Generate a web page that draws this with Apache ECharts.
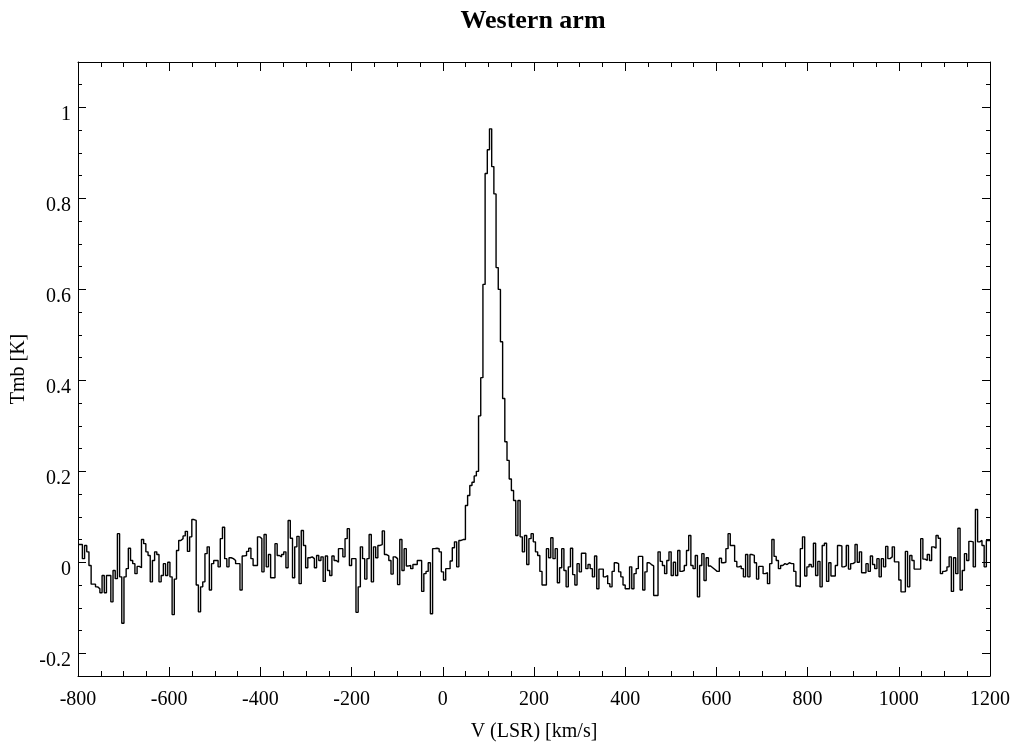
<!DOCTYPE html>
<html>
<head>
<meta charset="utf-8">
<title>Western arm</title>
<script src="https://cdn.jsdelivr.net/npm/echarts@6/dist/echarts.min.js"></script>
<style>
  html, body { margin: 0; padding: 0; background: #fff; }
  #chart { width: 1016px; height: 749px; }
</style>
</head>
<body>
<div id="chart"></div>
<script>
// Spectrum channels: first channel edge and channel width in km/s
const channelStart = -800;
const channelWidth = 4.8;

// Main-beam temperature per channel [K]
const tmbSeg1 = [
  0.039, 0.039, 0.008, 0.037, 0.023, -0.007, -0.048, -0.048, -0.054, -0.058,
  -0.067, -0.029, -0.067, -0.029, -0.029, -0.087, -0.018, -0.036, 0.063, -0.032,
  -0.134, -0.032, -0.014, 0.031, 0.004, -0.003, -0.025, -0.009, -0.012, 0.05,
  0.041, 0.023, 0.015, -0.043, 0.004, 0.023, 0.017, -0.043, -0.029, -0.003,
  -0.029, 0.0, -0.032, -0.115, -0.037, 0.026, 0.048, 0.052, 0.058, 0.068,
  0.024, 0.056, 0.094, 0.092, -0.05, -0.109, -0.054, -0.043, 0.019, 0.034,
  -0.061, -0.003, 0.004, 0.004, -0.01, 0.052, 0.077, 0.008, -0.01, 0.01,
  0.008, 0.004, -0.003, -0.003, -0.061, 0.014, 0.015, 0.024, 0.031, 0.008,
  -0.007, -0.007, 0.056, 0.052, -0.021, 0.061, -0.01, 0.017, -0.034, -0.034
];
const tmbSeg2 = [
  0.041, 0.015, 0.012, 0.017, 0.023, -0.012, 0.092, 0.053, -0.034, 0.034,
  0.057, -0.047, 0.07, 0.037, -0.012, 0.01, 0.012, 0.008, -0.012, 0.015,
  0.004, 0.012, -0.042, 0.014, -0.018, -0.029, 0.014, 0.004, 0.0, 0.03,
  0.03, 0.012, 0.052, 0.074, -0.007, 0.008, 0.008, -0.11, -0.054, 0.034,
  0.008, -0.037, 0.008, 0.061, -0.043, 0.034, 0.01, 0.037, 0.039, 0.069,
  0.017, 0.014, 0.004, -0.026, 0.012, 0.008, -0.049, 0.05, -0.018, 0.03,
  -0.008, -0.007, -0.014, -0.005, -0.005, 0.004, 0.004, -0.064, -0.025, -0.02,
  -0.001, -0.113, 0.03, 0.031, 0.03, 0.023, -0.021, -0.039, -0.014, -0.014,
  0.003, 0.032, 0.045, -0.01, 0.048, 0.05, 0.05
];
const tmbLine = [
  0.125, 0.147, 0.169, 0.176, 0.19, 0.2, 0.322, 0.406, 0.611, 0.855,
  0.907, 0.953, 0.87, 0.81, 0.648, 0.6, 0.485, 0.36, 0.265, 0.224,
  0.183, 0.158, 0.136, 0.059, 0.136, 0.056, 0.023, 0.059
];
const tmbSeg3 = [
  -0.005, 0.052, 0.063, 0.045, 0.023, 0.015, -0.02, -0.05, -0.05, 0.03,
  0.01, 0.054, 0.008, 0.03, -0.045, -0.012, 0.03, -0.018, -0.054, -0.01,
  0.031, -0.027, -0.05, -0.003, -0.021, 0.02, 0.02, -0.014, -0.005, -0.014,
  -0.032, 0.014, -0.058, -0.015, -0.015, -0.032, -0.029, -0.047, -0.054, -0.02,
  -0.001, -0.003, -0.021, -0.032, -0.05, -0.058, -0.058, -0.01, -0.058, -0.025,
  -0.014, 0.013, 0.013, -0.061, -0.021, -0.001, -0.005, -0.008, -0.073, -0.073,
  0.023, 0.002, -0.007, -0.025, 0.004, 0.023, -0.029, 0.0, -0.029, 0.026,
  -0.02, -0.018, -0.007, 0.026, 0.059, -0.007, -0.014, 0.015, -0.076, -0.007,
  0.019, -0.04, 0.01, -0.008, -0.012, -0.016, -0.02, -0.02, 0.009, -0.001
];
const tmbSeg4 = [
  0.0, 0.03, 0.063, 0.037, 0.037, 0.002, -0.01, -0.008, -0.014, -0.032,
  0.017, -0.032, 0.017, 0.015, -0.001, -0.037, -0.009, -0.009, -0.025, -0.023,
  -0.047, -0.003, 0.05, 0.013, 0.004, -0.014, -0.007, -0.003, -0.005, -0.001,
  -0.003, -0.003, -0.02, -0.052, -0.054, 0.03, 0.056, -0.03, -0.01, -0.005,
  -0.01, 0.042, -0.029, 0.002, -0.054, 0.037, 0.042, -0.042, -0.001, -0.03,
  -0.03, -0.007, 0.037, 0.036, -0.01, -0.008, 0.037, -0.015, -0.003, 0.0,
  0.039, 0.0, 0.023, -0.023, -0.023, -0.003, -0.02, 0.014, -0.005, -0.014,
  0.008, -0.032, 0.008, -0.01, 0.035, 0.008, 0.012, 0.034, 0.001, 0.001,
  -0.039, -0.065, -0.065, 0.024, -0.054, 0.015, 0.004, -0.015, -0.015, -0.015,
  0.052, 0.007, 0.004, 0.017, 0.004, 0.034, 0.031, 0.059, 0.053, -0.025,
  -0.02, -0.018, -0.01, 0.012, -0.064, 0.01, -0.025, 0.075, -0.061, -0.018,
  0.019, 0.004, 0.046, 0.045, -0.01, 0.116, 0.045, 0.048, 0.037, -0.01,
  0.048, 0.048
];

// Axis tick values
const yMajorTicks = [-0.2, 0, 0.2, 0.4, 0.6, 0.8, 1.0];
const yMinorTicks = [-0.25, -0.2, -0.15, -0.1, -0.05, 0, 0.05, 0.1, 0.15, 0.2, 0.25, 0.3, 0.35,
  0.4, 0.45, 0.5, 0.55, 0.6, 0.65, 0.7, 0.75, 0.8, 0.85, 0.9, 0.95, 1.0, 1.05, 1.1];

const tmb = [].concat(tmbSeg1, tmbSeg2, tmbLine, tmbSeg3, tmbSeg4);

// Histogram-style: each value is held across its channel (left edge -> right edge)
const points = tmb.map((t, i) => [channelStart + i * channelWidth, t]);
points.push([channelStart + tmb.length * channelWidth, tmb[tmb.length - 1]]);

const serif = 'Liberation Serif';
const black = '#000';

function xAxisDef(pos, labels) {
  return {
    type: 'value', position: pos, min: -800, max: 1200, interval: 200,
    axisLine: { show: true, onZero: false, lineStyle: { color: black, width: 1 } },
    axisTick: { show: true, inside: true, length: 9, lineStyle: { color: black, width: 1 } },
    minorTick: { show: true, splitNumber: 4, length: 5, lineStyle: { color: black, width: 1 } },
    splitLine: { show: false },
    axisLabel: labels ? {
      show: true, color: black, fontFamily: serif, fontSize: 20, margin: 14,
      formatter: v => String(v)
    } : { show: false },
    name: labels ? 'V (LSR) [km/s]' : '',
    nameLocation: 'middle', nameGap: 46,
    nameTextStyle: { color: black, fontFamily: serif, fontSize: 20 }
  };
}

function yAxisDef(pos, major, labels) {
  const vals = major ? yMajorTicks : yMinorTicks;
  return {
    type: 'value', position: pos, min: -0.25, max: 1.1,
    axisLine: { show: major, onZero: false, lineStyle: { color: black, width: 1 } },
    axisTick: { show: true, inside: true, length: major ? 8 : 4, customValues: vals,
      lineStyle: { color: black, width: 1 } },
    splitLine: { show: false },
    axisLabel: labels ? {
      show: true, customValues: yMajorTicks, color: black, fontFamily: serif, fontSize: 20,
      margin: 7, verticalAlign: 'top', lineHeight: 14,
      formatter: v => String(+(+v).toFixed(1))
    } : { show: false },
    name: labels ? 'Tmb [K]' : '',
    nameLocation: 'middle', nameGap: 46, nameRotate: 90,
    nameTextStyle: { color: black, fontFamily: serif, fontSize: 20 }
  };
}

const chart = echarts.init(document.getElementById('chart'), null, { renderer: 'canvas' });
chart.setOption({
  animation: false,
  backgroundColor: '#fff',
  title: {
    text: 'Western arm', left: 528, top: 3, textAlign: 'center',
    textStyle: { color: black, fontFamily: serif, fontSize: 26, fontWeight: 'bold' }
  },
  grid: { left: 78, right: 26, top: 62, bottom: 73, containLabel: false },
  xAxis: [xAxisDef('bottom', true), xAxisDef('top', false)],
  yAxis: [
    yAxisDef('left', true, true),
    yAxisDef('left', false, false),
    yAxisDef('right', true, false),
    yAxisDef('right', false, false)
  ],
  series: [{
    type: 'line', xAxisIndex: 0, yAxisIndex: 0,
    data: points, step: 'end', showSymbol: false, clip: true,
    lineStyle: { color: black, width: 1.4 }
  }]
});
</script>
</body>
</html>
